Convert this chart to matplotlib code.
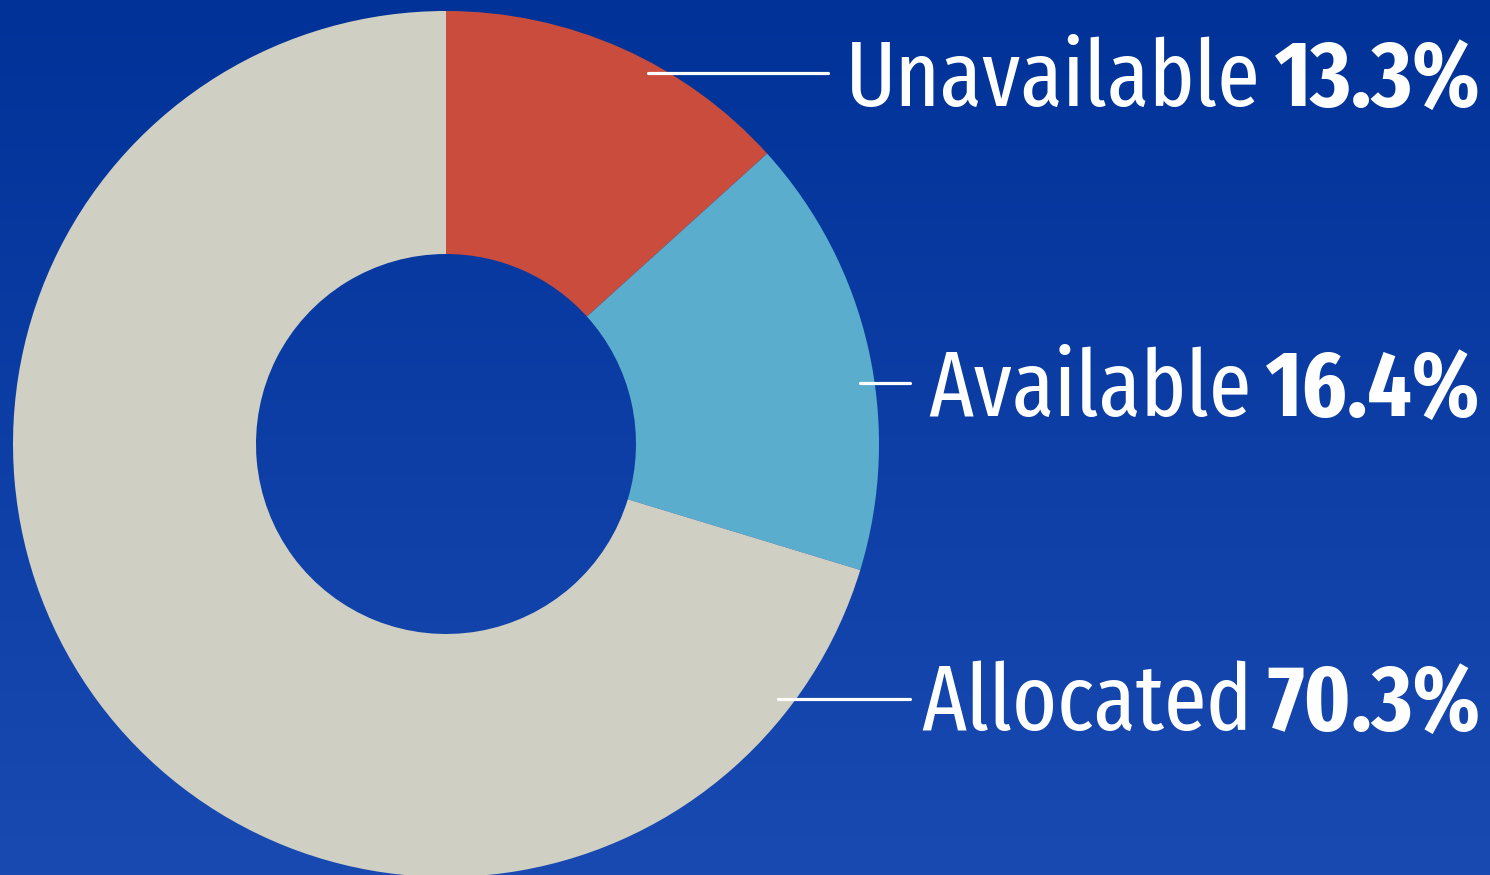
import numpy as np
import matplotlib
matplotlib.use('Agg')
import matplotlib.pyplot as plt

# data
labels = ['Unavailable', 'Available', 'Allocated']
shares = [13.3, 16.4, 70.3]
colors = ['#c94c3c', '#5aadcc', '#cfcfc4']

W, H = 1490, 875
fig = plt.figure(figsize=(W / 100, H / 100), dpi=100)
ax = fig.add_axes([0, 0, 1, 1])

# blue gradient background
top = np.array([0, 50, 152]) / 255.0
bottom = np.array([24, 74, 178]) / 255.0
t = np.linspace(0, 1, 256)[:, None]
grad = top * (1 - t) + bottom * t
ax.imshow(grad[:, None, :], extent=[0, W, 0, H], aspect='auto', zorder=0)

# donut
cx, cy = 446, H - 444
r_out, r_in = 433, 190
ax.pie(shares, colors=colors, startangle=90, counterclock=False,
       center=(cx, cy), radius=r_out, frame=True,
       wedgeprops=dict(width=r_out - r_in, linewidth=0))
ax.set_xlim(0, W)
ax.set_ylim(0, H)
ax.set_aspect('auto')
ax.axis('off')

# leader lines (x start, x end, y from top)
leaders = [(648, 828, 73), (860, 910, 383), (778, 910, 699)]
baselines = [106, 416, 730]

fam = ['Fira Sans Extra Condensed', 'DejaVu Sans']
fs = 67
fig.canvas.draw()
renderer = fig.canvas.get_renderer()
for (x0, x1, ly), base, lab, v in zip(leaders, baselines, labels, shares):
    ax.plot([x0, x1], [H - ly, H - ly], color='white', lw=2.3,
            solid_capstyle='round', zorder=5)
    pct = ax.text(1481, H - base, '{:.1f}%'.format(v), color='white',
                  fontsize=fs, fontweight='bold', family=fam,
                  ha='right', va='baseline', zorder=6)
    bb = pct.get_window_extent(renderer)
    ax.text(bb.x0 - 15, H - base, lab, color='white', fontsize=fs,
            family=fam, ha='right', va='baseline', zorder=6)

plt.savefig('out.png', dpi=100)
